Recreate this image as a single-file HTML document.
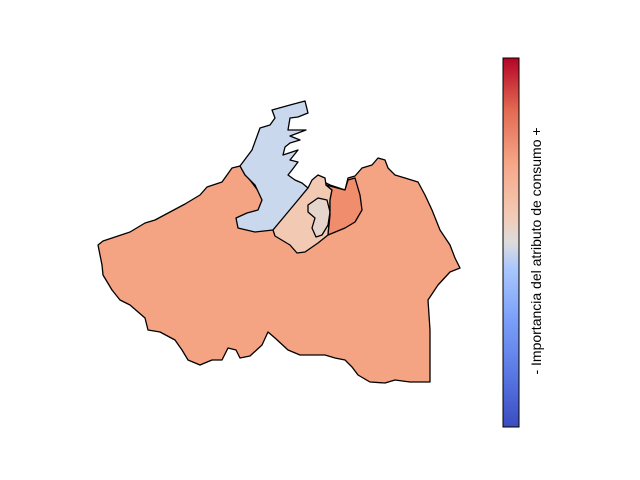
<!DOCTYPE html>
<html><head><meta charset="utf-8"><style>
html,body{margin:0;padding:0;background:#fff;}
svg{display:block;font-family:"Liberation Sans","DejaVu Sans",sans-serif;}
</style></head><body>
<svg id="c" width="640" height="480">
<defs><linearGradient id="cw" x1="0" y1="1" x2="0" y2="0">
<stop offset="0" stop-color="#3b4cc0"/><stop offset="0.14" stop-color="#5977e3"/><stop offset="0.29" stop-color="#7b9ff9"/><stop offset="0.43" stop-color="#aac7fd"/><stop offset="0.5" stop-color="#dddcdc"/><stop offset="0.57" stop-color="#f2cbb7"/><stop offset="0.71" stop-color="#f7a889"/><stop offset="0.86" stop-color="#e26952"/><stop offset="1" stop-color="#b40426"/>
</linearGradient></defs>
<g id="map"></g>
<rect x="503" y="58" width="16" height="369" fill="url(#cw)" stroke="#000" stroke-width="1"/>
<text transform="translate(541,251) rotate(-90)" text-anchor="middle" font-size="14" fill="#000">- Importancia del atributo de consumo +</text>
</svg>
<script>
const regionNames=["large-district","port-district","center-district","old-town-district","east-district"];
const regionColors=["#f4a383","#cad8ee","#f2c9b3","#e6d5cc","#ef8d6d"];
const regionShapes=[
"98,245 103,241 115,237 130,232 145,223 155,220 170,212 185,204 200,195 207,187 222,182 232,168 240,166 250,180 262,196 270,215 300,205 310,185 320,180 330,185 345,190 348,178 355,176 362,168 372,165 378,158 385,160 388,168 395,175 405,178 418,182 425,195 432,210 440,230 450,245 455,258 460,268 450,272 438,285 428,300 430,330 430,382 410,382 395,380 385,383 370,382 358,375 352,367 345,360 335,358 325,355 310,355 300,355 288,350 275,338 268,332 262,345 250,356 240,358 236,350 228,348 222,360 212,360 200,365 188,360 182,350 175,340 160,332 148,330 145,318 130,305 120,300 112,290 103,275 102,265 100,255",
"240,166 252,150 260,128 270,125 275,118 272,110 290,105 305,101 308,113 298,117 290,118 288,130 306,130 290,136 300,140 290,143 285,147 283,155 298,150 290,160 298,162 292,170 288,175 295,180 302,183 308,188 290,210 273,230 255,232 238,228 236,218 247,213 258,210 262,200 255,185 245,175",
"308,188 312,180 318,175 325,178 326,185 332,190 330,200 330,215 328,235 318,243 305,252 297,253 290,245 275,236 273,230",
"308,205 318,198 327,200 330,212 328,225 322,235 316,237 312,228 315,218 308,212",
"326,185 345,190 348,180 355,178 360,195 362,210 355,222 345,228 328,235 330,215 330,200 332,190"];
const g=document.getElementById('map');
for(let i=0;i<regionShapes.length;i++){
  const p=document.createElementNS('http://www.w3.org/2000/svg','polygon');
  p.setAttribute('points',regionShapes[i]);
  p.setAttribute('fill',regionColors[i]);
  p.setAttribute('stroke','#000');
  p.setAttribute('stroke-width','1.3');
  p.setAttribute('stroke-linejoin','round');
  
  
  g.appendChild(p);
}
</script>
</body></html>
